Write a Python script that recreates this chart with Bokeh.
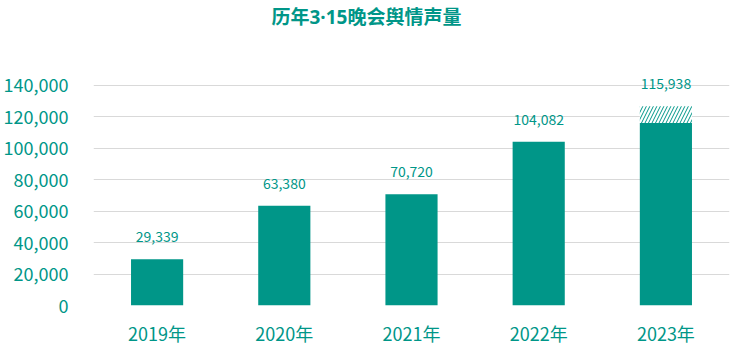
from bokeh.plotting import figure
from bokeh.models import ColumnDataSource, FixedTicker, NumeralTickFormatter, Title
from bokeh.core.properties import value
from bokeh.embed import file_html
from bokeh.resources import INLINE

title_text = "历年3·15晚会舆情声量"
years = ["2019年", "2020年", "2021年", "2022年", "2023年"]
volumes = [29339, 63380, 70720, 104082, 115938]
hatch_years = ["2023年"]
hatch_bottom = [115938]
hatch_top = [126500]
y_ticks = [0, 20000, 40000, 60000, 80000, 100000, 120000, 140000]

TEAL = "#009688"
FONT = "Noto Sans CJK SC"
TITLE_FONT = "'Noto Sans', 'Noto Sans CJK SC'"

label_y = []
for y, v in zip(years, volumes):
    top = v
    if y in hatch_years:
        top = max(top, hatch_top[hatch_years.index(y)])
    label_y.append(top)

src = ColumnDataSource(dict(x=years, top=volumes, ly=label_y,
                            txt=[f"{v:,}" for v in volumes]))
hsrc = ColumnDataSource(dict(x=hatch_years, bottom=hatch_bottom, top=hatch_top))

p = figure(x_range=years, y_range=(0, 155000), width=749, height=353,
           output_backend="svg", toolbar_location=None,
           min_border_left=93, min_border_right=20, min_border_bottom=48,
           min_border_top=0)

p.vbar(x="x", top="top", width=0.41, source=src, fill_color=TEAL, line_color=None)
p.vbar(x="x", bottom="bottom", top="top", width=0.41, source=hsrc,
       fill_color="white", line_color=None, hatch_pattern="/",
       hatch_color=TEAL, hatch_scale=7, hatch_weight=1)

p.text(x="x", y="ly", text="txt", source=src, text_align="center",
       text_baseline="bottom", y_offset=-17, text_font=value(FONT),
       text_font_size="14px", text_color=TEAL)

spacer = Title(text=" ", text_font_size="1px", standoff=27)
p.add_layout(spacer, "above")
title = Title(text=title_text, align="left", offset=178,
              text_font=TITLE_FONT, text_font_size="19px", text_font_style="bold",
              text_color=TEAL, standoff=3)
p.add_layout(title, "above")

p.outline_line_color = None
p.xgrid.grid_line_color = None
p.ygrid.grid_line_color = "#d9d9d9"
p.ygrid.grid_line_width = 1

p.yaxis.ticker = FixedTicker(ticks=y_ticks)
p.yaxis.formatter = NumeralTickFormatter(format="0,0")
for ax in (p.xaxis, p.yaxis):
    ax.axis_line_color = None
    ax.major_tick_line_color = None
    ax.minor_tick_line_color = None
    ax.major_label_text_font = FONT
    ax.major_label_text_font_size = "18px"
    ax.major_label_text_color = TEAL
p.yaxis.major_label_standoff = 19
p.xaxis.major_label_standoff = 8

open("out.html", "w").write(file_html(p, INLINE))
